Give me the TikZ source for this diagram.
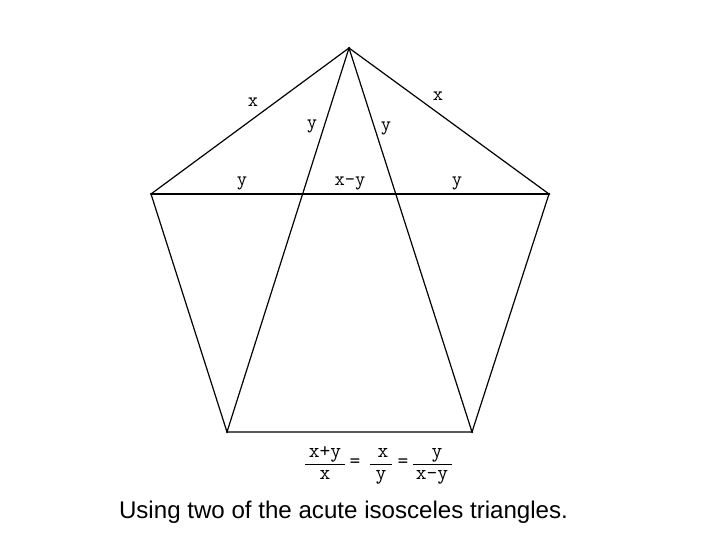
\documentclass[tikz,border=0pt]{standalone}
\usepackage{fontspec}
\setmainfont{Liberation Sans}
\begin{document}
\begin{tikzpicture}[x=1bp,y=-1bp,
  edge/.style={line width=1.2bp,black},
  lbl/.style={font=\ttfamily\fontsize{20}{22}\selectfont,inner sep=0pt},
  eqt/.style={font=\ttfamily\fontsize{21}{22}\selectfont,inner sep=0pt},
  bar/.style={line width=1bp,black},
  vdot/.style={circle,fill=black,inner sep=0pt,minimum size=2.5bp}]
\useasboundingbox[fill=white] (0,0) rectangle (720,540);
\node[vdot] (T) at (349,48) {};
\node[vdot] (L) at (151,194) {};
\node[vdot] (R) at (549,194) {};
\node[vdot] (BL) at (227,432) {};
\node[vdot] (BR) at (472,432) {};
\draw[edge] (T.center) -- (L.center) -- (BL.center) -- (BR.center) -- (R.center) -- (T.center);
\draw[edge] (L.center) -- (R.center);
\draw[edge] (T.center) -- (BL.center);
\draw[edge] (T.center) -- (BR.center);
\node[lbl] (xl) at (253,102) {x};
\node[lbl] (xr) at (438,96) {x};
\node[lbl] (y1) at (312,126) {y};
\node[lbl] (y2) at (386,128) {y};
\node[lbl] (y3) at (242,183) {y};
\node[lbl] (xy) at (350,183) {x-y};
\node[lbl] (y4) at (457,183) {y};
% equation
\node[eqt,anchor=base] (n1) at (325,457) {x+y};
\node[eqt,anchor=base] (d1) at (325,479) {x};
\coordinate (b1l) at (305,464); \coordinate (b1r) at (345,464);
\draw[bar] (b1l) -- (b1r);
\node[eqt] (e1) at (355,463) {=};
\node[eqt,anchor=base] (n2) at (383,457) {x};
\node[eqt,anchor=base] (d2) at (381,479) {y};
\coordinate (b2l) at (370,464); \coordinate (b2r) at (392,464);
\draw[bar] (b2l) -- (b2r);
\node[eqt] (e2) at (403,463) {=};
\node[eqt,anchor=base] (n3) at (437,457) {y};
\node[eqt,anchor=base] (d3) at (432,479) {x-y};
\coordinate (b3l) at (413,464); \coordinate (b3r) at (452,464);
\draw[bar] (b3l) -- (b3r);
\node[font=\fontsize{24.2}{28}\selectfont,inner sep=0pt] (cap) at (343.5,512) {Using two of the acute isosceles triangles.};
\end{tikzpicture}
\end{document}
